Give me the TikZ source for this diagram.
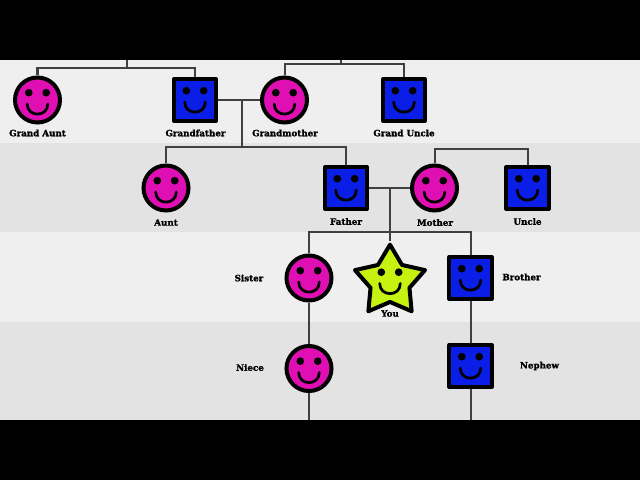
\documentclass[tikz,border=0pt]{standalone}
\usepackage{fontspec}
\setmainfont{DejaVu Serif}[BoldFeatures={FakeBold=1.5}]
\usetikzlibrary{shapes.geometric}

\definecolor{femalepink}{HTML}{E00FB4}
\definecolor{maleblue}{HTML}{0A1EE8}
\definecolor{youlime}{HTML}{C6F212}
\definecolor{bandlight}{HTML}{EFEFEF}
\definecolor{banddark}{HTML}{E3E3E3}
\definecolor{lineinkgray}{HTML}{404040}

\tikzset{
    femaleface/.style={circle, draw=black, fill=femalepink, line width=0.1cm, minimum size=1.125cm, inner sep=0},
    maleface/.style={rectangle, draw=black, fill=maleblue, line width=0.1cm, line join=round, minimum size=1.05cm, inner sep=0},
    youface/.style={star, star points=5, star point ratio=1.8, draw=black, fill=youlime, line width=0.1cm, line join=round, minimum size=1.84cm, inner sep=0},
    namelabel/.style={font=\fontsize{6.2}{7}\selectfont\bfseries, text=black, inner sep=0},
    famline/.style={draw=lineinkgray, line width=0.05cm},
    smiley/.pic={
        \fill[black] (-8.7,-9.3) circle (3.85);
        \fill[black] (8.7,-9.3) circle (3.85);
        \draw[black, line width=0.068cm, line cap=round] (-10.3,2) .. controls (-10.3,15.5) and (10.3,15.5) .. (10.3,2);
    }
}

\begin{document}
\begin{tikzpicture}[x=0.025cm, y=-0.025cm]
    \useasboundingbox (0,0) rectangle (640,480);

    % Background
    \fill[black] (0,0) rectangle (640,480);
    \fill[bandlight] (0,60) rectangle (640,143);
    \fill[banddark] (0,143) rectangle (640,232);
    \fill[bandlight] (0,232) rectangle (640,322);
    \fill[banddark] (0,322) rectangle (640,420);

    % Grandparents row
    \node[femaleface] (grandaunt) at (37.5,100) {};
    \node[maleface] (grandfather) at (195,100) {};
    \node[femaleface] (grandmother) at (284.5,100) {};
    \node[maleface] (granduncle) at (404,100) {};

    % Parents row
    \node[femaleface] (aunt) at (166,188) {};
    \node[maleface] (father) at (346,188) {};
    \node[femaleface] (mother) at (434.5,188) {};
    \node[maleface] (uncle) at (527.5,188) {};

    % Siblings row
    \node[femaleface] (sister) at (309,278) {};
    \node[youface] (you) at (390,281.5) {};
    \node[maleface] (brother) at (470.5,278) {};

    % Children row
    \node[femaleface] (niece) at (309,368.5) {};
    \node[maleface] (nephew) at (470.5,366) {};

    % Junctions
    \coordinate (topleftend) at (127,60);
    \coordinate (topleft) at (127,68);
    \coordinate (toprightend) at (341,60);
    \coordinate (topright) at (341,64);
    \coordinate (gpdrop) at (241.5,100);
    \coordinate (gpbar) at (241.5,147);
    \coordinate (unclebar) at (481,149);
    \coordinate (fmdrop) at (390,188);
    \coordinate (fmbar) at (390,232);
    \coordinate (nieceend) at (309,420);
    \coordinate (nephewend) at (470.5,420);

    % Connectors
    \draw[famline] (topleftend) -- (topleft);
    \draw[famline] (grandaunt) |- (topleft) -| (grandfather);
    \draw[famline] (toprightend) -- (topright);
    \draw[famline] (grandmother) |- (topright) -| (granduncle);
    \draw[famline] (grandfather) -- (grandmother);
    \draw[famline] (gpdrop) -- (gpbar);
    \draw[famline] (aunt) |- (gpbar) -| (father);
    \draw[famline] (mother) |- (unclebar) -| (uncle);
    \draw[famline] (father) -- (mother);
    \draw[famline] (fmdrop) -- (fmbar);
    \draw[famline] (fmbar) -- (you);
    \draw[famline] (sister) |- (fmbar) -| (brother);
    \draw[famline] (sister) -- (niece);
    \draw[famline] (brother) -- (nephew);
    \draw[famline] (niece) -- (nieceend);
    \draw[famline] (nephew) -- (nephewend);

    % Faces
    \pic at ([yshift=-1.4pt]grandaunt.center) {smiley};
    \pic at (grandfather.center) {smiley};
    \pic at ([yshift=-1.4pt]grandmother.center) {smiley};
    \pic at (granduncle.center) {smiley};
    \pic at ([yshift=-1.4pt]aunt.center) {smiley};
    \pic at (father.center) {smiley};
    \pic at ([yshift=-1.4pt]mother.center) {smiley};
    \pic at (uncle.center) {smiley};
    \pic at ([yshift=-1.4pt]sister.center) {smiley};
    \pic at (you.center) {smiley};
    \pic at (brother.center) {smiley};
    \pic at ([yshift=-1.4pt]niece.center) {smiley};
    \pic at (nephew.center) {smiley};

    % Labels
    \node[namelabel] (grandauntlabel) at (37.5,133) {Grand Aunt};
    \node[namelabel] (grandfatherlabel) at (195.5,133) {Grandfather};
    \node[namelabel] (grandmotherlabel) at (285,133) {Grandmother};
    \node[namelabel] (granduncleblabel) at (404,133) {Grand Uncle};
    \node[namelabel] (auntlabel) at (166,222.5) {Aunt};
    \node[namelabel] (fatherlabel) at (346,221.5) {Father};
    \node[namelabel] (motherlabel) at (435,222.5) {Mother};
    \node[namelabel] (unclelabel) at (527.5,221.5) {Uncle};
    \node[namelabel] (sisterlabel) at (249,278) {Sister};
    \node[namelabel] (youlabel) at (390,313.5) {You};
    \node[namelabel] (brotherlabel) at (521.5,277) {Brother};
    \node[namelabel] (niecelabel) at (250,367.5) {Niece};
    \node[namelabel] (nephewlabel) at (539.5,366) {Nephew};
\end{tikzpicture}
\end{document}
